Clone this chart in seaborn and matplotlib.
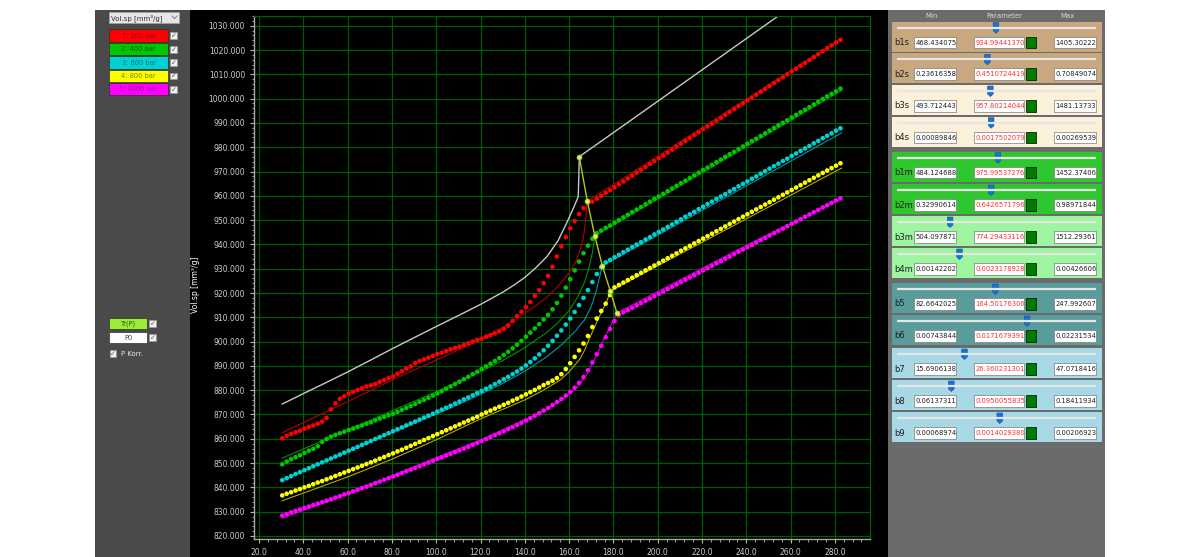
import matplotlib
matplotlib.use("Agg")
import matplotlib.pyplot as plt
from matplotlib.patches import Rectangle, Polygon
from matplotlib.ticker import MultipleLocator, FormatStrFormatter
import numpy as np
import pandas as pd
import seaborn as sns

plt.rcParams['font.family'] = ['DejaVu Sans']

# measurement temperatures (2 degree steps)
temperature = np.arange(30.5, 283.0, 2.0)

series_names = ["1: 200 bar", "2: 400 bar", "3: 600 bar", "4: 800 bar", "5: 1000 bar"]

vol_200 = [860.2, 861.2, 862.0, 862.7, 863.3, 864.2, 864.9, 865.5, 866.2, 867.1,
           868.6, 872.1, 874.6, 876.5, 877.5, 878.6, 879.3, 880.1, 880.8, 881.5,
           882.0, 882.5, 883.4, 884.2, 885.0, 885.7, 886.8, 887.8, 888.9, 889.8,
           891.1, 892.0, 892.7, 893.4, 894.1, 894.9, 895.4, 896.1, 896.8, 897.4,
           897.9, 898.6, 899.3, 900.0, 900.7, 901.2, 902.0, 902.7, 903.4, 904.2,
           905.2, 906.6, 908.5, 910.5, 912.3, 914.2, 916.3, 918.8, 921.2, 924.1,
           927.1, 930.8, 935.0, 939.2, 943.0, 946.6, 949.6, 952.5, 955.0, 957.0,
           957.6, 958.8, 960.0, 961.2, 962.3, 963.5, 964.7, 965.9, 967.1, 968.3,
           969.5, 970.7, 971.9, 973.1, 974.3, 975.5, 976.6, 977.8, 979.0, 980.2,
           981.4, 982.6, 983.8, 985.0, 986.2, 987.4, 988.5, 989.7, 990.9, 992.1,
           993.3, 994.5, 995.7, 996.9, 998.1, 999.3, 1000.4, 1001.6, 1002.8, 1004.0,
           1005.2, 1006.4, 1007.6, 1008.8, 1010.0, 1011.2, 1012.3, 1013.5, 1014.7, 1015.9,
           1017.1, 1018.3, 1019.5, 1020.7, 1021.9, 1023.1, 1024.2]

vol_400 = [849.5, 850.6, 851.6, 852.4, 853.2, 854.2, 855.1, 855.9, 856.9, 858.7,
           859.9, 860.9, 861.6, 862.3, 862.9, 863.6, 864.2, 864.9, 865.5, 866.2,
           866.8, 867.6, 868.3, 869.0, 869.7, 870.3, 871.1, 871.9, 872.7, 873.5,
           874.3, 875.2, 876.0, 876.9, 877.8, 878.7, 879.6, 880.6, 881.5, 882.5,
           883.5, 884.5, 885.5, 886.6, 887.6, 888.7, 889.8, 890.9, 892.0, 893.2,
           894.5, 895.8, 897.2, 898.7, 900.3, 902.0, 903.7, 905.4, 907.2, 909.1,
           911.0, 913.3, 915.9, 918.9, 922.2, 925.7, 929.3, 932.9, 936.4, 939.5,
           942.3,
           944.6, 945.7, 946.8, 947.8, 948.9, 950.0, 951.1, 952.2, 953.3, 954.3,
           955.4, 956.5, 957.6, 958.7, 959.7, 960.8, 961.9, 963.0, 964.1, 965.2,
           966.2, 967.3, 968.4, 969.5, 970.6, 971.6, 972.7, 973.8, 974.9, 976.0,
           977.1, 978.1, 979.2, 980.3, 981.4, 982.5, 983.5, 984.6, 985.7, 986.8,
           987.9, 989.0, 990.0, 991.1, 992.2, 993.3, 994.4, 995.4, 996.5, 997.6,
           998.7, 999.8, 1000.9, 1001.9, 1003.0, 1004.1]

vol_600 = [843.0, 843.8, 844.6, 845.5, 846.3, 847.1, 847.9, 848.7, 849.5, 850.3,
           851.1, 851.9, 852.7, 853.5, 854.3, 855.1, 855.9, 856.7, 857.5, 858.3,
           859.1, 859.9, 860.7, 861.5, 862.3, 863.1, 863.9, 864.7, 865.5, 866.3,
           867.1, 867.9, 868.7, 869.5, 870.3, 871.2, 872.0, 872.8, 873.6, 874.5,
           875.3, 876.2, 877.0, 877.9, 878.8, 879.7, 880.6, 881.5, 882.5, 883.5,
           884.5, 885.5, 886.6, 887.7, 888.9, 890.2, 891.6, 893.1, 894.7, 896.4,
           898.3, 900.3, 902.4, 904.6, 907.0, 909.5, 912.2, 915.0, 918.0, 921.2,
           924.5, 927.8, 930.6,
           932.6, 933.6, 934.7, 935.7, 936.8, 937.8, 938.9, 939.9, 940.9, 942.0,
           943.0, 944.1, 945.1, 946.1, 947.2, 948.2, 949.3, 950.3, 951.4, 952.4,
           953.4, 954.5, 955.5, 956.6, 957.6, 958.7, 959.7, 960.7, 961.8, 962.8,
           963.9, 964.9, 965.9, 967.0, 968.0, 969.1, 970.1, 971.2, 972.2, 973.2,
           974.3, 975.3, 976.4, 977.4, 978.5, 979.5, 980.5, 981.6, 982.6, 983.7,
           984.7, 985.7, 986.8, 987.8]

vol_800 = [836.7, 837.4, 838.0, 838.7, 839.3, 840.0, 840.6, 841.3, 842.0, 842.6,
           843.3, 844.0, 844.7, 845.4, 846.1, 846.8, 847.5, 848.2, 848.9, 849.6,
           850.3, 851.0, 851.8, 852.5, 853.3, 854.0, 854.8, 855.5, 856.3, 857.1,
           857.9, 858.7, 859.5, 860.3, 861.1, 861.9, 862.7, 863.5, 864.3, 865.1,
           865.9, 866.7, 867.5, 868.3, 869.1, 870.0, 870.8, 871.6, 872.4, 873.2,
           874.0, 874.8, 875.7, 876.5, 877.4, 878.3, 879.2, 880.1, 881.1, 882.1,
           883.0, 883.9, 885.0, 886.6, 888.7, 891.1, 893.7, 896.4, 899.2, 902.3,
           906.0, 909.5, 912.6, 915.6, 919.2,
           922.3, 923.3, 924.3, 925.3, 926.3, 927.3, 928.3, 929.3, 930.3, 931.3,
           932.3, 933.3, 934.3, 935.3, 936.3, 937.4, 938.4, 939.4, 940.4, 941.4,
           942.4, 943.4, 944.4, 945.4, 946.4, 947.4, 948.4, 949.4, 950.4, 951.4,
           952.4, 953.4, 954.4, 955.4, 956.4, 957.4, 958.4, 959.4, 960.4, 961.4,
           962.4, 963.4, 964.4, 965.4, 966.4, 967.4, 968.4, 969.4, 970.4, 971.4,
           972.4, 973.4]

vol_1000 = [828.4, 829.0, 829.7, 830.3, 830.9, 831.5, 832.1, 832.7, 833.3, 833.9,
            834.5, 835.1, 835.8, 836.4, 837.1, 837.7, 838.4, 839.0, 839.7, 840.3,
            841.0, 841.7, 842.4, 843.1, 843.8, 844.5, 845.2, 845.9, 846.6, 847.3,
            848.0, 848.7, 849.5, 850.2, 850.9, 851.7, 852.4, 853.1, 853.8, 854.5,
            855.2, 856.0, 856.7, 857.5, 858.3, 859.1, 859.9, 860.7, 861.5, 862.3,
            863.1, 864.0, 864.8, 865.7, 866.6, 867.5, 868.5, 869.5, 870.5, 871.6,
            872.7, 873.9, 875.1, 876.4, 877.8, 879.3, 881.0, 883.0, 885.4, 888.2,
            891.4, 894.8, 898.3, 901.8, 905.2, 908.4,
            911.0, 912.0, 913.0, 913.9, 914.9, 915.8, 916.8, 917.7, 918.7, 919.7,
            920.6, 921.6, 922.6, 923.5, 924.5, 925.4, 926.4, 927.3, 928.3, 929.3,
            930.2, 931.2, 932.2, 933.1, 934.1, 935.0, 936.0, 937.0, 937.9, 938.9,
            939.8, 940.8, 941.8, 942.7, 943.7, 944.6, 945.6, 946.5, 947.5, 948.5,
            949.4, 950.4, 951.4, 952.3, 953.3, 954.2, 955.2, 956.1, 957.1, 958.1,
            959.0]

# fitted Tait curves (solid branch up to Tr, melt branch after)
fit_200_T = [30.5, 40, 50, 60, 70, 80, 90, 100, 110, 120, 130, 140, 145, 150, 155, 160, 163, 165,
             166.5, 167.5, 168.2, 180, 200, 220, 240, 260, 283]
fit_200_V = [862.5, 866.6, 871.0, 875.3, 879.7, 884.1, 888.3, 892.4, 896.5, 900.8, 905.8, 911.6,
             914.8, 918.3, 922.8, 928.3, 932.8, 937.8, 943.0, 950.0, 957.9, 964.6, 976.3, 988.0,
             999.7, 1011.4, 1024.8]
fit_400_T = [30.5, 40, 50, 60, 70, 80, 90, 100, 110, 120, 130, 140, 150, 155, 160, 164, 167, 169,
             170.5, 171.6, 200, 240, 283]
fit_400_V = [852.1, 855.8, 859.7, 863.6, 867.5, 871.5, 875.4, 879.4, 883.4, 887.6, 892.2, 897.5,
             903.8, 907.8, 912.8, 918.5, 924.5, 930.5, 936.5, 943.5, 958.7, 980.2, 1003.4]
fit_600_T = [30.5, 50, 70, 90, 100, 110, 120, 130, 140, 150, 157, 163, 167, 170, 172, 173.9,
             175.0, 200, 240, 283]
fit_600_V = [842.8, 850.7, 858.6, 866.4, 870.2, 874.1, 878.3, 882.8, 887.8, 893.8, 899.0, 904.5,
             909.0, 914.5, 920.0, 927.0, 931.2, 943.8, 964.1, 985.9]
fit_800_T = [30.5, 60, 80, 100, 120, 140, 148, 156, 160, 165, 167, 170, 174, 177, 178.6, 200,
             240, 283]
fit_800_V = [834.5, 844.3, 851.6, 859.6, 868.2, 876.0, 879.8, 884.2, 887.5, 893.0, 896.5, 903.0,
             911.0, 916.5, 920.8, 931.2, 950.5, 971.4]
fit_1000_T = [30.5, 60, 80, 100, 120, 140, 150, 156, 160, 164, 168, 172, 176, 179, 181.6, 200,
              240, 283]
fit_1000_V = [827.3, 837.3, 844.6, 852.2, 859.5, 867.8, 872.3, 875.6, 878.2, 881.5, 886.5, 893.5,
              901.5, 907.0, 911.8, 920.6, 939.6, 958.7]

# zero pressure curve P0
p0_T = [30.5, 40, 50, 60, 70, 80, 90, 100, 110, 120, 130, 135, 140, 145, 150, 155, 159, 162,
        164.1, 164.4, 164.6, 180, 200, 220, 240, 260]
p0_V = [874.3, 878.6, 883.0, 887.5, 892.2, 897.0, 901.6, 906.2, 910.7, 915.3, 920.3, 923.2,
        926.4, 930.4, 935.0, 941.5, 949.0, 955.0, 959.6, 967.9, 976.1, 986.0, 998.9, 1011.8,
        1024.7, 1037.6]

# transition line Tr(P)
tr_T = [164.6, 168.2, 171.6, 175.0, 178.6, 181.6]
tr_V = [976.1, 957.9, 943.5, 931.2, 920.8, 911.8]

# parameter panel
param_names = ["b1s", "b2s", "b3s", "b4s", "b1m", "b2m", "b3m", "b4m", "b5", "b6", "b7", "b8", "b9"]
param_min = ["468.434075", "0.23616358", "493.712443", "0.00089846", "484.124688", "0.32990614",
             "504.097871", "0.00142202", "82.6642025", "0.00743844", "15.6906138", "0.06137311",
             "0.00068974"]
param_val = ["934.99441370", "0.4510724419", "957.80214044", "0.0017502079", "975.99537276",
             "0.6426571796", "774.29433116", "0.0023178928", "164.50176306", "0.0171679391",
             "26.360231301", "0.0950055835", "0.0014029380"]
param_max = ["1405.30222", "0.70849074", "1481.13733", "0.00269539", "1452.37406", "0.98971844",
             "1512.29361", "0.00426606", "247.992607", "0.02231534", "47.0718416", "0.18411934",
             "0.00206923"]

dot_colors = ["#ff0000", "#00c800", "#00d2d2", "#ffff00", "#ff00ff"]
fit_colors = ["#b40000", "#0a8c00", "#0096a8", "#b4aa00", "#c800c8"]
legend_text_colors = ["#a00000", "#006400", "#007878", "#8c7800", "#960096"]

dots = pd.concat([pd.DataFrame({"T": temperature, "V": v, "series": n})
                  for n, v in zip(series_names, [vol_200, vol_400, vol_600, vol_800, vol_1000])],
                 ignore_index=True)
fits = pd.concat([pd.DataFrame({"T": t, "V": v, "series": n})
                  for n, t, v in zip(series_names,
                                     [fit_200_T, fit_400_T, fit_600_T, fit_800_T, fit_1000_T],
                                     [fit_200_V, fit_400_V, fit_600_V, fit_800_V, fit_1000_V])],
                 ignore_index=True)

W, H = 1199, 557
fig = plt.figure(figsize=(W / 100, H / 100), dpi=100, facecolor="white")

# ---- UI background (pixel coordinates) ----
ui = fig.add_axes([0, 0, 1, 1], zorder=0)
ui.set_xlim(0, W)
ui.set_ylim(H, 0)
ui.axis("off")


def box(x, y, w, h, fc, ec="none", lw=0.6, **kw):
    ui.add_patch(Rectangle((x, y), w, h, facecolor=fc, edgecolor=ec, linewidth=lw, **kw))


def checkbox(x, y):
    box(x, y, 6.5, 6.5, "#f2f2f2", "#9a9a9a", 0.5)
    ui.text(x + 3.3, y + 3.6, "\u2713", fontsize=5, color="#505050", ha="center", va="center")


box(95, 10, 95, H - 10, "#4a4a4a")
box(190, 10, 698, H - 10, "black")
box(888, 10, 217, H - 10, "#6b6b6b")

# left panel: selector and legend
box(109, 12, 70, 11, "#e6e6e6", "#a0a0a0")
ui.text(111, 17.8, "Vol.sp [mm\u00b3/g]", fontsize=5, color="#303030", va="center")
ui.plot([172, 174.5, 177], [16, 18.5, 16], color="#707070", lw=0.6)

row_top = [29.3, 43.0, 56.3, 69.7, 83.0]
for name, top, fc, tc in zip(series_names, row_top, dot_colors, legend_text_colors):
    box(109.3, top, 59, 12.3, fc, "#303030", 0.5)
    ui.text(138.8, top + 6.4, name, fontsize=4.8, color=tc, ha="center", va="center")
    checkbox(170.3, top + 3)

box(109.3, 317.7, 38, 11.3, "#99ee33", "#303030", 0.5)
ui.text(128.3, 323.5, "Tr(P)", fontsize=4.8, color="#3c5000", ha="center", va="center")
checkbox(149.3, 320)
box(109.3, 331.7, 38, 11.6, "white", "#303030", 0.5)
ui.text(128.3, 337.6, "P0", fontsize=4.8, color="#404040", ha="center", va="center")
checkbox(149.3, 334)
checkbox(109.5, 350)
ui.text(121, 353.6, "P Korr.", fontsize=5, color="#e8e8e8", va="center")

# right panel: parameter sliders
ui.text(932, 15.5, "Min", fontsize=5, color="#d8d8d8", ha="center", va="center")
ui.text(1004, 15.5, "Parameter", fontsize=5, color="#d8d8d8", ha="center", va="center")
ui.text(1068, 15.5, "Max", fontsize=5, color="#d8d8d8", ha="center", va="center")

box_tops = [21.7, 53.3, 85.0, 116.7, 151.7, 184.0, 216.0, 248.0, 283.0, 315.0, 348.0, 380.0, 412.0]
box_colors = ["#c9a77f", "#c9a77f", "#fdf0da", "#fdf0da", "#2ec82e", "#2ec82e", "#9ff59f",
              "#9ff59f", "#5a9c9c", "#5a9c9c", "#a8d8e6", "#a8d8e6", "#a8d8e6"]
track_l, track_r = 896.7, 1096.0
for name, lo, val, hi, top, fc in zip(param_names, param_min, param_val, param_max, box_tops,
                                      box_colors):
    box(891.7, top, 210, 30, fc)
    ui.plot([track_l, track_r], [top + 6, top + 6], color="#e6e6e6", lw=1.6,
            solid_capstyle="butt")
    frac = (float(val) - float(lo)) / (float(hi) - float(lo))
    xt = track_l + frac * (track_r - track_l)
    ui.add_patch(Polygon([(xt - 2.8, top + 1), (xt + 2.8, top + 1), (xt + 2.8, top + 9),
                          (xt, top + 11.5), (xt - 2.8, top + 9)], closed=True,
                         facecolor="#1a74d8", edgecolor="#0d4f9c", linewidth=0.4))
    ui.text(894, top + 21, name, fontsize=6, color="#1e1e1e", va="center")
    box(914, top + 15, 42, 11.5, "white", "#7a7a7a", 0.5)
    ui.text(915.2, top + 21, lo, fontsize=4.9, color="#202020", va="center")
    box(974.3, top + 15, 49.7, 11.5, "white", "#7a7a7a", 0.5)
    ui.text(975.5, top + 21, val, fontsize=4.9, color="#ff3030", va="center")
    box(1026, top + 15, 10, 11.5, "#007a00", "#002800", 0.6)
    box(1054, top + 15, 42, 11.5, "white", "#7a7a7a", 0.5)
    ui.text(1055.2, top + 21, hi, fontsize=4.9, color="#202020", va="center")

# ---- main chart ----
ax_l, ax_r, ax_t, ax_b = 254, 870, 16, 539
ax = fig.add_axes([ax_l / W, 1 - ax_b / H, (ax_r - ax_l) / W, (ax_b - ax_t) / H], zorder=1)
ax.set_facecolor("black")

sns.lineplot(x=p0_T, y=p0_V, color="#c8c8c8", lw=1.0, sort=False, estimator=None, ax=ax)
sns.lineplot(data=fits, x="T", y="V", hue="series", palette=dict(zip(series_names, fit_colors)),
             lw=0.8, sort=False, estimator=None, legend=False, ax=ax)
sns.scatterplot(data=dots, x="T", y="V", hue="series",
                palette=dict(zip(series_names, dot_colors)), s=11, linewidth=0, legend=False,
                ax=ax, zorder=3)
sns.lineplot(x=tr_T, y=tr_V, color="#b4c81e", lw=1.0, sort=False, estimator=None, marker="o",
             markersize=3.6, markerfacecolor="#d2f55a", markeredgecolor="#a8c020",
             markeredgewidth=0.5, ax=ax, zorder=4)

ax.set_xlim(17.74, 295.85)
ax.set_ylim(818.76, 1034.0)
ax.xaxis.set_major_locator(MultipleLocator(20))
ax.xaxis.set_minor_locator(MultipleLocator(4))
ax.yaxis.set_major_locator(MultipleLocator(10))
ax.yaxis.set_minor_locator(MultipleLocator(2))
ax.xaxis.set_major_formatter(FormatStrFormatter("%.1f"))
ax.yaxis.set_major_formatter(FormatStrFormatter("%.3f"))
ax.tick_params(which="both", colors="#b8b8b8", labelcolor="#cdcdcd", labelsize=5.5,
               direction="out")
ax.tick_params(which="major", length=3, width=0.8, pad=3.5)
ax.tick_params(which="minor", length=1.8, width=0.6)
ax.grid(True, which="major", color="#005c00", lw=0.9)
ax.set_axisbelow(True)
for side in ["left", "bottom"]:
    ax.spines[side].set_color("#a8a8a8")
    ax.spines[side].set_linewidth(1.0)
for side in ["top", "right"]:
    ax.spines[side].set_color("#006000")
    ax.spines[side].set_linewidth(0.9)
ax.set_xlabel("")
ax.set_ylabel("Vol.sp [mm\u00b3/g]", color="white", fontsize=5.5)
ax.yaxis.set_label_coords((200 - ax_l) / (ax_r - ax_l), 0.486)

fig.savefig("out.png", dpi=100, facecolor="white")
